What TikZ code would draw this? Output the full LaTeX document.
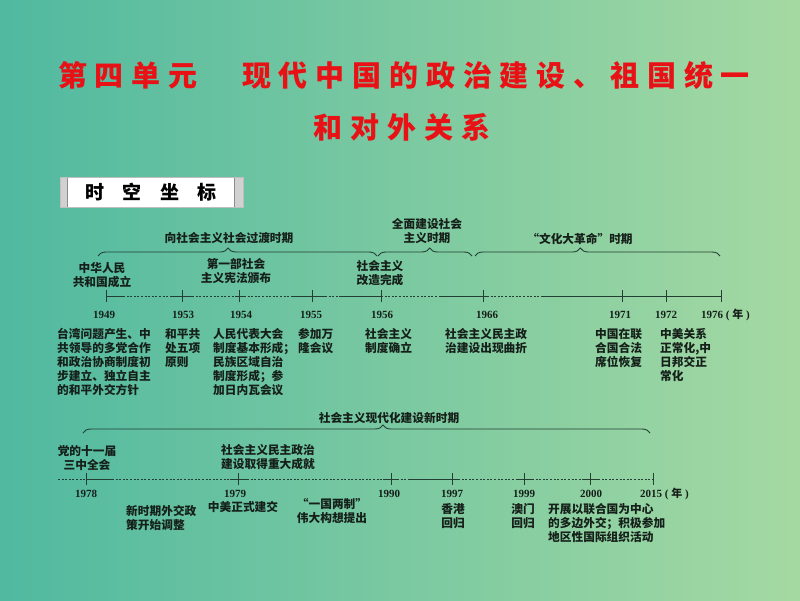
\documentclass[tikz,border=0pt]{standalone}
\usepackage{fontspec}
\setmainfont{Liberation Serif}
\newfontfamily\cjk{Noto Sans CJK SC}
\newfontfamily\cjktitle[LetterSpace=27]{Noto Sans CJK SC}
\usetikzlibrary{decorations.pathreplacing}
\definecolor{bgL}{RGB}{80,185,160}
\definecolor{bgR}{RGB}{165,217,162}
\definecolor{ink}{RGB}{22,32,26}
\definecolor{axiscol}{RGB}{35,62,50}
\definecolor{titlered}{RGB}{232,18,22}
\tikzset{
  titletxt/.style={font=\cjktitle\bfseries\fontsize{29}{31}\selectfont, text=titlered, inner sep=0pt},
  txt/.style={font=\cjk\bfseries\fontsize{11.7}{14}\selectfont, text=ink, inner sep=0pt, align=left, anchor=north west},
  ctxt/.style={txt, align=center, anchor=north},
  yr/.style={font=\bfseries\fontsize{11}{13}\selectfont, text=ink, inner sep=0pt, anchor=base},
  solidseg/.style={draw=axiscol, line width=0.9pt},
  dashseg/.style={draw=axiscol, line width=0.8pt, dash pattern=on 2pt off 1.6pt},
  tickmark/.style={draw=axiscol, line width=0.9pt},
  bracel/.style={draw=axiscol, line width=0.9pt, decorate, decoration={brace, amplitude=8pt, aspect=#1}},
}
\begin{document}
\begin{tikzpicture}[x=1pt,y=-1pt]
\useasboundingbox (0,0) rectangle (800,600);
\shade[left color=bgL, right color=bgR] (0,0) rectangle (800,600);

% title
\node[titletxt] (title1) at (404,75) {第四单元　现代中国的政治建设、祖国统一};
\node[titletxt] (title2) at (402,127) {和对外关系};

% header box
\fill[white] (60,177) rectangle (243,207);
\fill[black!18] (60,177) rectangle (67,207);
\fill[black!18] (235,177) rectangle (243,207);
\draw[black!45, line width=0.8pt] (67.5,177) -- (67.5,207);
\draw[black!45, line width=0.8pt] (234.5,177) -- (234.5,207);
\draw[black!25, line width=0.6pt] (60,177) rectangle (243,207);
\node[font=\cjk\bfseries\fontsize{19}{21}\selectfont, text=black, inner sep=0pt] (hdr) at (151,192) {时\hskip18.5pt 空\hskip18.5pt 坐\hskip18.5pt 标};

% ===== upper timeline =====
\def\ya{296}
\draw[solidseg] (106,\ya) -- (123,\ya);
\draw[dashseg] (123,\ya) -- (172,\ya);
\draw[solidseg] (172,\ya) -- (192,\ya);
\draw[dashseg] (192,\ya) -- (235,\ya);
\draw[solidseg] (235,\ya) -- (244,\ya);
\draw[dashseg] (244,\ya) -- (293,\ya);
\draw[solidseg] (293,\ya) -- (325,\ya);
\draw[dashseg] (325,\ya) -- (340,\ya);
\draw[solidseg] (340,\ya) -- (381,\ya);
\draw[dashseg] (381,\ya) -- (440,\ya);
\draw[solidseg] (440,\ya) -- (487,\ya);
\draw[dashseg] (487,\ya) -- (543,\ya);
\draw[solidseg] (543,\ya) -- (721,\ya);
\foreach \x in {106,182,239,312,381,483,622,666,721}
  \draw[tickmark] (\x,\ya-6) -- (\x,\ya+6);

% braces upper
\draw[bracel=0.466] (98,256) -- (377,256);
\draw[bracel=0.55] (378,256) -- (472,256);
\draw[bracel=0.43] (475,256) -- (720,256);
\node[ctxt] (p1) at (229,232) {向社会主义社会过渡时期};
\node[ctxt] (p2) at (427,218) {全面建设社会\\主义时期};
\node[ctxt] (p3) at (580,233) {“文化大革命”时期};

% labels above axis
\node[ctxt] (u1949) at (102,262) {中华人民\\共和国成立};
\node[ctxt] (u1954) at (236,258) {第一部社会\\主义宪法颁布};
\node[ctxt] (u1956) at (380,260) {社会主义\\改造完成};

% years
\node[yr] (y1949) at (104,318) {1949};
\node[yr] (y1953) at (183,318) {1953};
\node[yr] (y1954) at (241,318) {1954};
\node[yr] (y1955) at (311,318) {1955};
\node[yr] (y1956) at (382,318) {1956};
\node[yr] (y1966) at (487,318) {1966};
\node[yr] (y1971) at (620,318) {1971};
\node[yr] (y1972) at (666,318) {1972};
\node[yr, anchor=base west] (y1976) at (701,318) {1976 ( {\cjk 年} )};

% descriptions
\node[txt] (d1949) at (57,328) {台湾问题产生、中\\共领导的多党合作\\和政治协商制度初\\步建立、独立自主\\的和平外交方针};
\node[txt] (d1953) at (165,328) {和平共\\处五项\\原则};
\node[txt] (d1954) at (213,328) {人民代表大会\\制度基本形成；\\民族区域自治\\制度形成；参\\加日内瓦会议};
\node[txt] (d1955) at (298,328) {参加万\\隆会议};
\node[txt] (d1956) at (365,328) {社会主义\\制度确立};
\node[txt] (d1966) at (445,328) {社会主义民主政\\治建设出现曲折};
\node[txt] (d1971) at (595,328) {中国在联\\合国合法\\席位恢复};
\node[txt] (d1972) at (660,328) {中美关系\\正常化,中\\日邦交正\\常化};

% ===== lower timeline =====
\def\yb{479}
\draw[dashseg] (58,\yb) -- (86,\yb);
\draw[solidseg] (86,\yb) -- (112,\yb);
\draw[dashseg] (112,\yb) -- (230,\yb);
\draw[solidseg] (230,\yb) -- (247,\yb);
\draw[dashseg] (247,\yb) -- (383,\yb);
\draw[solidseg] (383,\yb) -- (397,\yb);
\draw[dashseg] (397,\yb) -- (408,\yb);
\draw[solidseg] (408,\yb) -- (458,\yb);
\draw[dashseg] (458,\yb) -- (517,\yb);
\draw[solidseg] (517,\yb) -- (532,\yb);
\draw[dashseg] (532,\yb) -- (583,\yb);
\draw[solidseg] (583,\yb) -- (598,\yb);
\draw[dashseg] (598,\yb) -- (653,\yb);
\foreach \x in {86,238,391,452,524,590,653}
  \draw[tickmark] (\x,\yb-6) -- (\x,\yb+6);

\draw[bracel=0.529] (83,433) -- (650,433);
\node[ctxt] (p4) at (389,412) {社会主义现代化建设新时期};

\node[ctxt] (u1978) at (87,445) {党的十一届\\三中全会};
\node[ctxt] (u1979) at (268,444) {社会主义民主政治\\建设取得重大成就};

\node[yr] (y1978) at (86,497) {1978};
\node[yr] (y1979) at (235,497) {1979};
\node[yr] (y1990) at (389,497) {1990};
\node[yr] (y1997) at (452,497) {1997};
\node[yr] (y1999) at (524,497) {1999};
\node[yr] (y2000) at (591,497) {2000};
\node[yr, anchor=base west] (y2015) at (640,497) {2015 ( {\cjk 年} )};

\node[txt] (d1978) at (126,505) {新时期外交政\\策开始调整};
\node[ctxt] (d1979) at (243,501) {中美正式建交};
\node[ctxt] (d1990) at (332,498) {“一国两制”\\伟大构想提出};
\node[ctxt] (d1997) at (453,503) {香港\\回归};
\node[ctxt] (d1999) at (523,503) {澳门\\回归};
\node[txt] (d2000) at (548,503) {开展以联合国为中心\\的多边外交；积极参加\\地区性国际组织活动};
\end{tikzpicture}
\end{document}
